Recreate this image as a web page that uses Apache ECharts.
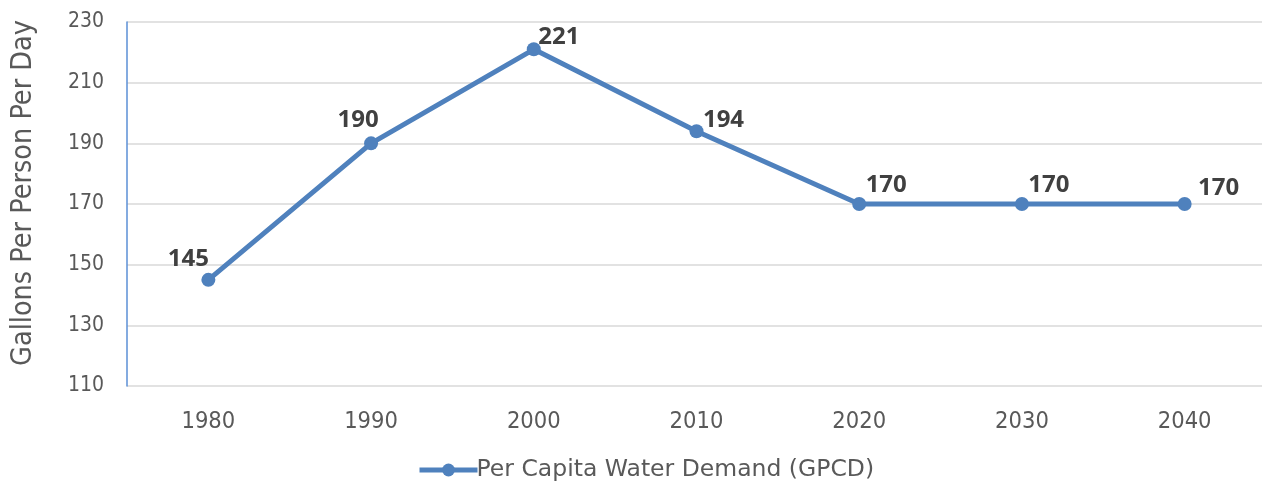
<!DOCTYPE html>
<html>
<head>
<meta charset="utf-8">
<script src="https://cdn.jsdelivr.net/npm/echarts@6/dist/echarts.min.js"></script>
<style>
  html, body { margin: 0; padding: 0; background: #fff; }
  #chart { width: 1262px; height: 487px; }
</style>
</head>
<body>
<div id="chart"></div>
<script>
// Per capita water demand by decade
const years = ['1980', '1990', '2000', '2010', '2020', '2030', '2040'];
const gpcd = [145, 190, 221, 194, 170, 170, 170];
const seriesName = 'Per Capita Water Demand (GPCD)';
const yTitle = 'Gallons Per Person Per Day';

// label placement relative to each point
const labelOffsets = [[-20, 3], [-13, 1], [25, 12], [27, 13], [27, 5], [27, 5], [34, 8]];

const chart = echarts.init(document.getElementById('chart'));
const blue = '#4f81bd';
const gray = '#595959';
const condensed = "'DejaVu Sans Condensed', 'DejaVu Sans', sans-serif";

chart.setOption({
  animation: false,
  grid: { left: 127, top: 22, right: -4, bottom: 101, containLabel: false, outerBoundsMode: 'none' },
  xAxis: {
    type: 'category',
    data: years,
    boundaryGap: true,
    axisLine: { show: false },
    axisTick: { show: false },
    axisLabel: { color: gray, fontSize: 23.5, fontFamily: condensed, margin: 24 },
    splitLine: { show: false }
  },
  yAxis: {
    type: 'value',
    min: 110, max: 230, interval: 20,
    name: yTitle,
    nameLocation: 'middle',
    nameGap: 89,
    nameTextStyle: { color: gray, fontSize: 28.5, fontFamily: condensed, padding: [0, 0, 0, 22] },
    axisLine: { show: true, lineStyle: { color: '#5b8fd6', width: 1.5 } },
    axisTick: { show: false },
    axisLabel: { color: gray, fontSize: 21, fontFamily: condensed, margin: 23 },
    splitLine: { lineStyle: { color: '#d9d9d9', width: 1.5 } }
  },
  legend: {
    bottom: 0,
    left: 412,
    itemWidth: 58,
    itemHeight: 16,
    itemGap: 10,
    lineStyle: { width: 5 },
    textStyle: { color: gray, fontSize: 23.5, fontFamily: "'DejaVu Sans', sans-serif", padding: [0, 0, 0, -6] },
    data: [seriesName]
  },
  series: [{
    name: seriesName,
    type: 'line',
    data: gpcd.map((v, i) => ({
      value: v,
      label: { offset: labelOffsets[i] }
    })),
    symbol: 'circle',
    symbolSize: 14,
    lineStyle: { color: blue, width: 5 },
    itemStyle: { color: blue },
    label: {
      show: true,
      position: 'top',
      color: '#404040',
      fontSize: 24,
      fontWeight: 'bold',
      fontFamily: "'Open Sans', 'Lato', sans-serif"
    }
  }]
});
</script>
</body>
</html>
